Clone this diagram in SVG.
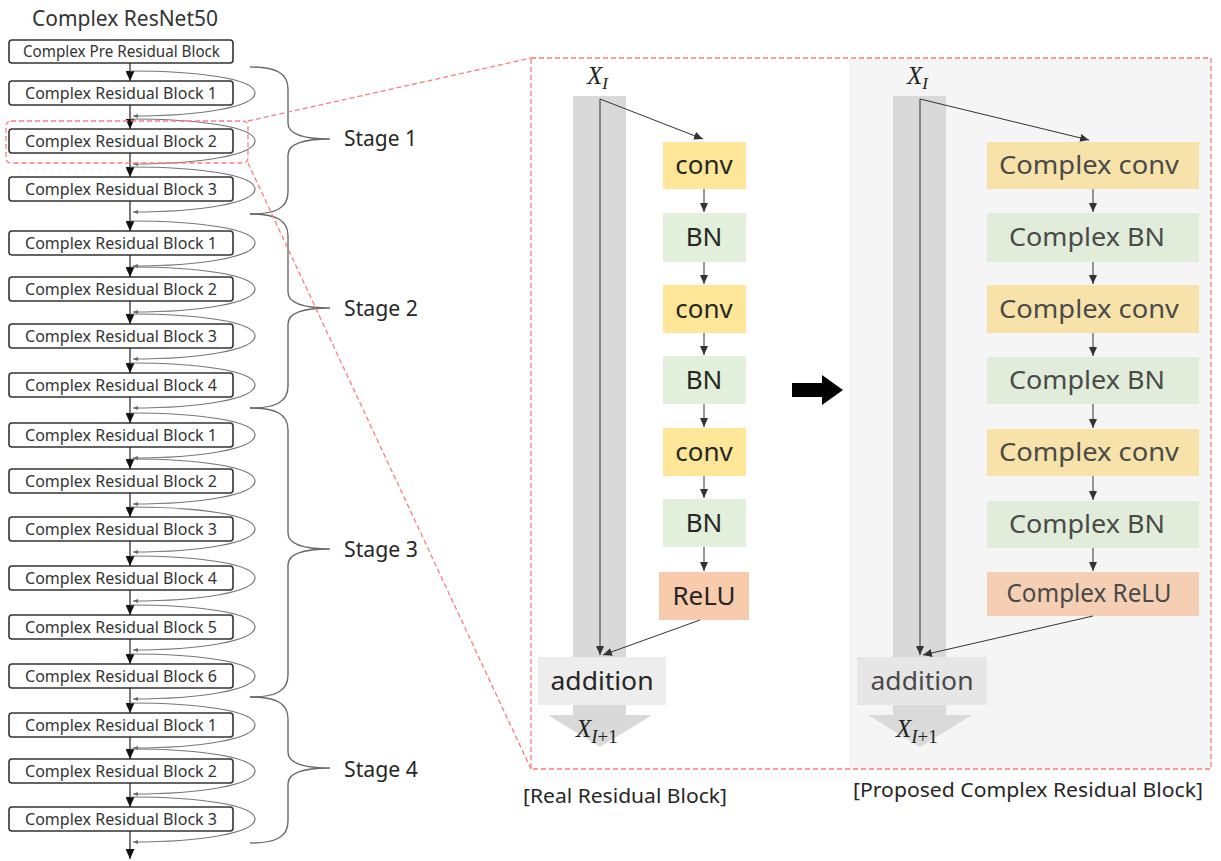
<svg xmlns="http://www.w3.org/2000/svg" width="1221" height="861" viewBox="0 0 1221 861">
<style>
.blk rect{fill:#fff;stroke:#333;stroke-width:1.6}
.blk text{font-family:"Noto Sans","Liberation Sans",sans-serif;font-size:15.5px;fill:#333;text-anchor:middle}
.vline{stroke:#222;stroke-width:1.2;fill:none}
.loop{stroke:#777;stroke-width:1.2;fill:none}
.brace{stroke:#6a6a6a;stroke-width:1.4;fill:none}
.stage{font-family:"Noto Sans","Liberation Sans",sans-serif;font-size:21px;fill:#262626}
.red{stroke:#ff7b7b;stroke-width:1.3;stroke-dasharray:5 3;fill:none}
.op text{font-family:"Noto Sans","Liberation Sans",sans-serif;font-size:26px;text-anchor:middle}
.real text{fill:#262626}
.cplx text{fill:#4a4a4a}
.thin{stroke:#333;stroke-width:1;fill:none}
.math{font-family:"Liberation Serif","DejaVu Serif",serif;font-style:italic;fill:#222}
.cap{font-family:"Noto Sans","Liberation Sans",sans-serif;font-size:20px;fill:#262626}
</style>
<defs>
<marker id="ab" markerUnits="userSpaceOnUse" markerWidth="10" markerHeight="9" refX="10" refY="4.5" orient="auto"><path d="M0,0 L10,4.5 L0,9 z" fill="#111"/></marker>
<marker id="as" markerUnits="userSpaceOnUse" markerWidth="5" markerHeight="4" refX="5" refY="2" orient="auto"><path d="M0,0 L5,2 L0,4 z" fill="#666"/></marker>
<marker id="am" markerUnits="userSpaceOnUse" markerWidth="9" markerHeight="8" refX="9" refY="4" orient="auto"><path d="M0,0 L9,4 L0,8 z" fill="#333"/></marker>
</defs>
<rect width="1221" height="861" fill="#fff"/>

<text x="32" y="26" font-family="Noto Sans, Liberation Sans, sans-serif" font-size="21" fill="#333" textLength="186" lengthAdjust="spacingAndGlyphs">Complex ResNet50</text>

<!-- right panel background -->
<rect x="849" y="59" width="362" height="710" fill="#f5f5f5"/>

<!-- left column blocks -->
<g id="pre" class="blk"><rect x="9" y="40" width="224" height="23" rx="3"/><text x="121.5" y="57" textLength="197" lengthAdjust="spacingAndGlyphs">Complex Pre Residual Block</text></g>
<g id="s1b1" class="blk"><rect x="9" y="81" width="224" height="24" rx="3"/><text x="121" y="98.5" textLength="192" lengthAdjust="spacingAndGlyphs">Complex Residual Block 1</text></g>
<g id="s1b2" class="blk"><rect x="9" y="129" width="224" height="24" rx="3"/><text x="121" y="146.5" textLength="192" lengthAdjust="spacingAndGlyphs">Complex Residual Block 2</text></g>
<g id="s1b3" class="blk"><rect x="9" y="177" width="224" height="24" rx="3"/><text x="121" y="194.5" textLength="192" lengthAdjust="spacingAndGlyphs">Complex Residual Block 3</text></g>
<g id="s2b1" class="blk"><rect x="9" y="231" width="224" height="24" rx="3"/><text x="121" y="248.5" textLength="192" lengthAdjust="spacingAndGlyphs">Complex Residual Block 1</text></g>
<g id="s2b2" class="blk"><rect x="9" y="277" width="224" height="24" rx="3"/><text x="121" y="294.5" textLength="192" lengthAdjust="spacingAndGlyphs">Complex Residual Block 2</text></g>
<g id="s2b3" class="blk"><rect x="9" y="324" width="224" height="24" rx="3"/><text x="121" y="341.5" textLength="192" lengthAdjust="spacingAndGlyphs">Complex Residual Block 3</text></g>
<g id="s2b4" class="blk"><rect x="9" y="373" width="224" height="24" rx="3"/><text x="121" y="390.5" textLength="192" lengthAdjust="spacingAndGlyphs">Complex Residual Block 4</text></g>
<g id="s3b1" class="blk"><rect x="9" y="423" width="224" height="24" rx="3"/><text x="121" y="440.5" textLength="192" lengthAdjust="spacingAndGlyphs">Complex Residual Block 1</text></g>
<g id="s3b2" class="blk"><rect x="9" y="469" width="224" height="24" rx="3"/><text x="121" y="486.5" textLength="192" lengthAdjust="spacingAndGlyphs">Complex Residual Block 2</text></g>
<g id="s3b3" class="blk"><rect x="9" y="517" width="224" height="24" rx="3"/><text x="121" y="534.5" textLength="192" lengthAdjust="spacingAndGlyphs">Complex Residual Block 3</text></g>
<g id="s3b4" class="blk"><rect x="9" y="566" width="224" height="24" rx="3"/><text x="121" y="583.5" textLength="192" lengthAdjust="spacingAndGlyphs">Complex Residual Block 4</text></g>
<g id="s3b5" class="blk"><rect x="9" y="615" width="224" height="24" rx="3"/><text x="121" y="632.5" textLength="192" lengthAdjust="spacingAndGlyphs">Complex Residual Block 5</text></g>
<g id="s3b6" class="blk"><rect x="9" y="664" width="224" height="24" rx="3"/><text x="121" y="681.5" textLength="192" lengthAdjust="spacingAndGlyphs">Complex Residual Block 6</text></g>
<g id="s4b1" class="blk"><rect x="9" y="713" width="224" height="24" rx="3"/><text x="121" y="730.5" textLength="192" lengthAdjust="spacingAndGlyphs">Complex Residual Block 1</text></g>
<g id="s4b2" class="blk"><rect x="9" y="759" width="224" height="24" rx="3"/><text x="121" y="776.5" textLength="192" lengthAdjust="spacingAndGlyphs">Complex Residual Block 2</text></g>
<g id="s4b3" class="blk"><rect x="9" y="807" width="224" height="24" rx="3"/><text x="121" y="824.5" textLength="192" lengthAdjust="spacingAndGlyphs">Complex Residual Block 3</text></g>

<!-- left column connectors -->
<g id="left-connectors">
<g class="vline" marker-end="url(#ab)">
<line x1="130" y1="63" x2="130" y2="81"/><line x1="130" y1="105" x2="130" y2="129"/><line x1="130" y1="153" x2="130" y2="177"/>
<line x1="130" y1="201" x2="130" y2="231"/><line x1="130" y1="255" x2="130" y2="277"/><line x1="130" y1="301" x2="130" y2="324"/>
<line x1="130" y1="348" x2="130" y2="373"/><line x1="130" y1="397" x2="130" y2="423"/><line x1="130" y1="447" x2="130" y2="469"/>
<line x1="130" y1="493" x2="130" y2="517"/><line x1="130" y1="541" x2="130" y2="566"/><line x1="130" y1="590" x2="130" y2="615"/>
<line x1="130" y1="639" x2="130" y2="664"/><line x1="130" y1="688" x2="130" y2="713"/><line x1="130" y1="737" x2="130" y2="759"/>
<line x1="130" y1="783" x2="130" y2="807"/><line x1="130" y1="831" x2="130" y2="859"/>
</g>
<g class="loop" marker-end="url(#as)">
<path d="M130,71 C200,71 255,79 255,93 C255,107 200,116 133,116"/>
<path d="M130,119 C200,119 255,127 255,141 C255,155 200,164 133,164"/>
<path d="M130,167 C200,167 255,175 255,189 C255,203 200,212 133,212"/>
<path d="M130,221 C200,221 255,229 255,243 C255,257 200,266 133,266"/>
<path d="M130,267 C200,267 255,275 255,289 C255,303 200,312 133,312"/>
<path d="M130,314 C200,314 255,322 255,336 C255,350 200,359 133,359"/>
<path d="M130,363 C200,363 255,371 255,385 C255,399 200,408 133,408"/>
<path d="M130,413 C200,413 255,421 255,435 C255,449 200,458 133,458"/>
<path d="M130,459 C200,459 255,467 255,481 C255,495 200,504 133,504"/>
<path d="M130,507 C200,507 255,515 255,529 C255,543 200,552 133,552"/>
<path d="M130,556 C200,556 255,564 255,578 C255,592 200,601 133,601"/>
<path d="M130,605 C200,605 255,613 255,627 C255,641 200,650 133,650"/>
<path d="M130,654 C200,654 255,662 255,676 C255,690 200,699 133,699"/>
<path d="M130,703 C200,703 255,711 255,725 C255,739 200,748 133,748"/>
<path d="M130,749 C200,749 255,757 255,771 C255,785 200,794 133,794"/>
<path d="M130,797 C200,797 255,805 255,819 C255,833 200,842 133,842"/>
</g>
<g class="brace">
<path d="M250,67 C276,67 288,73 288,89 L288,123 C288,135 305,139 330,139 C305,139 288,143 288,155 L288,192 C288,208 276,214 250,214"/>
<path d="M250,214 C276,214 288,220 288,236 L288,292 C288,304 305,308 330,308 C305,308 288,312 288,324 L288,386 C288,402 276,408 250,408"/>
<path d="M250,408 C276,408 288,414 288,430 L288,533 C288,545 305,549 330,549 C305,549 288,553 288,565 L288,675 C288,691 276,697 250,697"/>
<path d="M250,697 C276,697 288,703 288,719 L288,752 C288,764 305,768 330,768 C305,768 288,772 288,784 L288,821 C288,837 276,843 250,843"/>
</g>
</g>
<text class="stage" x="344" y="146" textLength="73" lengthAdjust="spacingAndGlyphs">Stage 1</text>
<text class="stage" x="344" y="316" textLength="74" lengthAdjust="spacingAndGlyphs">Stage 2</text>
<text class="stage" x="344" y="557" textLength="74" lengthAdjust="spacingAndGlyphs">Stage 3</text>
<text class="stage" x="344" y="777" textLength="74" lengthAdjust="spacingAndGlyphs">Stage 4</text>

<!-- zoom indicator -->
<g id="zoom-lines">
<rect class="red" x="6" y="121" width="242" height="42" rx="5"/>
<line class="red" x1="248" y1="121" x2="531" y2="58"/>
<line class="red" x1="248" y1="163" x2="531" y2="769"/>
<rect class="red" x="531" y="58" width="680" height="711"/>
</g>

<!-- Real residual block -->
<g id="real-shaft">
<rect x="573" y="96" width="53" height="619" fill="#d9d9d9"/>
<polygon points="548,715 652,715 600,747" fill="#d9d9d9"/>
</g>
<g id="real-addition" class="op real"><rect x="538" y="657" width="128" height="48" fill="#ededed"/><text x="602" y="690" textLength="103" lengthAdjust="spacingAndGlyphs">addition</text></g>
<g id="real-conv1" class="op real"><rect x="663" y="142" width="83" height="47" fill="#ffe699"/><text x="704" y="174">conv</text></g>
<g id="real-bn1" class="op real"><rect x="663" y="213" width="83" height="49" fill="#e2efda"/><text x="704" y="246">BN</text></g>
<g id="real-conv2" class="op real"><rect x="663" y="285" width="83" height="48" fill="#ffe699"/><text x="704" y="318">conv</text></g>
<g id="real-bn2" class="op real"><rect x="663" y="356" width="83" height="48" fill="#e2efda"/><text x="704" y="389">BN</text></g>
<g id="real-conv3" class="op real"><rect x="663" y="428" width="83" height="48" fill="#ffe699"/><text x="704" y="461">conv</text></g>
<g id="real-bn3" class="op real"><rect x="663" y="499" width="83" height="48" fill="#e2efda"/><text x="704" y="532">BN</text></g>
<g id="real-relu" class="op real"><rect x="659" y="572" width="90" height="48" fill="#f8cbad"/><text x="704" y="605">ReLU</text></g>
<text class="math" x="587" y="84" font-size="25">X<tspan font-size="17" dy="5">I</tspan></text>
<text class="math" x="576" y="737" font-size="25">X<tspan font-size="19" dy="6">I</tspan><tspan font-size="19" font-style="normal">+1</tspan></text>

<!-- Complex residual block -->
<g id="cplx-shaft">
<rect x="893" y="96" width="53" height="619" fill="#d9d9d9"/>
<polygon points="868,715 972,715 920,747" fill="#dadada"/>
</g>
<g id="cplx-addition" class="op cplx"><rect x="857" y="657" width="130" height="48" fill="#e6e6e6"/><text x="922" y="690" textLength="103" lengthAdjust="spacingAndGlyphs">addition</text></g>
<g id="cplx-conv1" class="op cplx"><rect x="987" y="142" width="212" height="47" fill="#f7e3a9"/><text x="1089" y="174" textLength="180" lengthAdjust="spacingAndGlyphs">Complex conv</text></g>
<g id="cplx-bn1" class="op cplx"><rect x="987" y="213" width="212" height="49" fill="#e2ecda"/><text x="1087" y="246" textLength="156" lengthAdjust="spacingAndGlyphs">Complex BN</text></g>
<g id="cplx-conv2" class="op cplx"><rect x="987" y="285" width="212" height="48" fill="#f7e3a9"/><text x="1089" y="318" textLength="180" lengthAdjust="spacingAndGlyphs">Complex conv</text></g>
<g id="cplx-bn2" class="op cplx"><rect x="987" y="357" width="212" height="47" fill="#e2ecda"/><text x="1087" y="389" textLength="156" lengthAdjust="spacingAndGlyphs">Complex BN</text></g>
<g id="cplx-conv3" class="op cplx"><rect x="987" y="429" width="212" height="47" fill="#f7e3a9"/><text x="1089" y="461" textLength="180" lengthAdjust="spacingAndGlyphs">Complex conv</text></g>
<g id="cplx-bn3" class="op cplx"><rect x="987" y="501" width="212" height="47" fill="#e2ecda"/><text x="1087" y="533" textLength="156" lengthAdjust="spacingAndGlyphs">Complex BN</text></g>
<g id="cplx-relu" class="op cplx"><rect x="987" y="572" width="212" height="44" fill="#f4cfb4"/><text x="1089" y="602" font-size="23" textLength="165" lengthAdjust="spacingAndGlyphs">Complex ReLU</text></g>
<text class="math" x="907" y="84" font-size="25">X<tspan font-size="17" dy="5">I</tspan></text>
<text class="math" x="896" y="737" font-size="25">X<tspan font-size="19" dy="6">I</tspan><tspan font-size="19" font-style="normal">+1</tspan></text>

<!-- block connectors -->
<g id="block-connectors" class="thin" marker-end="url(#am)">
<line x1="600" y1="99" x2="600" y2="655"/>
<line x1="600" y1="99" x2="703" y2="139"/>
<line x1="704" y1="189" x2="704" y2="212"/>
<line x1="704" y1="262" x2="704" y2="284"/>
<line x1="704" y1="333" x2="704" y2="355"/>
<line x1="704" y1="404" x2="704" y2="427"/>
<line x1="704" y1="476" x2="704" y2="498"/>
<line x1="704" y1="547" x2="704" y2="571"/>
<line x1="700" y1="620" x2="603" y2="655"/>
<line x1="920" y1="99" x2="920" y2="655"/>
<line x1="920" y1="99" x2="1089" y2="140"/>
<line x1="1093" y1="189" x2="1093" y2="212"/>
<line x1="1093" y1="262" x2="1093" y2="284"/>
<line x1="1093" y1="333" x2="1093" y2="356"/>
<line x1="1093" y1="404" x2="1093" y2="428"/>
<line x1="1093" y1="476" x2="1093" y2="500"/>
<line x1="1093" y1="548" x2="1093" y2="571"/>
<line x1="1093" y1="616" x2="923" y2="655"/>
</g>

<!-- transform arrow -->
<polygon id="big-arrow" points="792,383 822,383 822,375 843,390 822,405 822,397 792,397" fill="#000"/>

<text class="cap" x="523" y="803" textLength="204" lengthAdjust="spacingAndGlyphs">[Real Residual Block]</text>
<text class="cap" x="853" y="797" textLength="350" lengthAdjust="spacingAndGlyphs">[Proposed Complex Residual Block]</text>
</svg>
